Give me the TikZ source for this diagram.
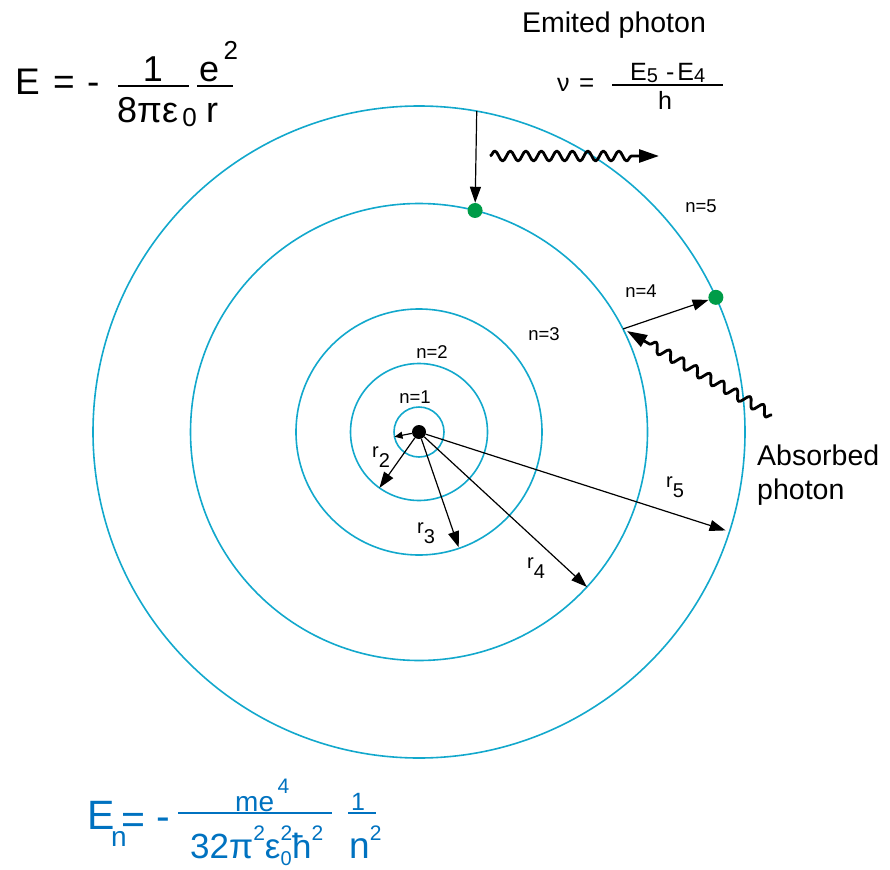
\documentclass[tikz,border=0pt]{standalone}
\usepackage{fontspec}
\setmainfont{Liberation Sans}
\usetikzlibrary{arrows.meta,decorations.pathmorphing}
\definecolor{orbitcyan}{RGB}{18,168,204}
\definecolor{eqblue}{RGB}{0,114,192}
\definecolor{dotgreen}{RGB}{0,156,72}
\newcommand{\fs}[1]{\fontsize{#1}{#1}\selectfont}
\newcommand{\rsub}[1]{r\raisebox{-10pt}{#1}}
\newcommand{\hisup}[1]{\raisebox{18pt}{\fs{21}#1}}
\newcommand{\losub}[1]{\raisebox{-7pt}{\fs{20}#1}}
\tikzset{
  orbit/.style={draw=orbitcyan,line width=1.6pt},
  arr/.style={-{Triangle[length=16pt,width=11pt]},line width=1.2pt},
  shortarr/.style={-{Triangle[length=8pt,width=7pt]},line width=1.2pt},
  photon/.style={-{Triangle[length=20pt,width=13pt]},line width=2.8pt,line join=round,
    decorate,decoration={snake,amplitude=5pt,segment length=15.5pt,post length=20pt}},
  elec/.style={circle,fill=dotgreen,inner sep=0pt,minimum size=15pt},
  nucleus/.style={circle,fill=black,inner sep=0pt,minimum size=14pt},
  nlab/.style={anchor=base,font=\fs{18.5}},
  rlab/.style={anchor=base west,inner sep=0pt,font=\fs{20}},
  caption/.style={font=\fontsize{28.5}{34}\selectfont},
  eqtxt/.style={anchor=base west,inner sep=0pt},
  fracbar/.style={line width=1.5pt}
}
\begin{document}
\begin{tikzpicture}[x=1pt,y=-1pt]
\useasboundingbox (0,0) rectangle (890,869);
\coordinate (c) at (419,432);
% orbits
\foreach \rad in {25,68.5,123,228.5,326}
  \draw[orbit] (c) circle[radius=\rad];
\node[nucleus] (nuc) at (c) {};
% radii
\foreach \ang/\rad/\nm in {169/25/r1,125.3/68.5/r2,71/122/r3,42.7/228.5/r4,17.8/322/r5}
  \path (c) ++(\ang:\rad) coordinate (\nm);
\draw[shortarr] (nuc) -- (r1);
\foreach \nm in {r2,r3,r4,r5}
  \draw[arr] (nuc) -- (\nm);
\node[rlab] (lr2) at (372,457) {\rsub{2}};
\node[rlab] (lr3) at (417,533) {\rsub{3}};
\node[rlab] (lr4) at (527,568) {\rsub{4}};
\node[rlab] (lr5) at (666,487) {\rsub{5}};
% orbit labels
\node[nlab] (n1) at (415,403) {n=1};
\node[nlab] (n2) at (432,358) {n=2};
\node[nlab] (n3) at (544,340) {n=3};
\node[nlab] (n4) at (641,297) {n=4};
\node[nlab] (n5) at (701,212) {n=5};
% electrons and jumps
\path (c) ++(284.2:228.5) node[elec] (el4) {};
\path (c) ++(335.6:326) node[elec] (el5) {};
\path (c) ++(280.2:326) coordinate (jump5);
\path (c) ++(333.2:228.5) coordinate (jump4);
\draw[arr] (jump5) -- (el4);
\draw[arr] (jump4) -- (el5);
% photons
\coordinate (emit0) at (490,156);
\coordinate (emit1) at (659,156);
\draw[photon] (emit0) -- (emit1);
\coordinate (abs0) at (772,415);
\coordinate (abs1) at (627,331);
\draw[photon] (abs0) -- (abs1);
\node[caption,anchor=base] (emit) at (614,33) {Emited photon};
\node[caption,anchor=base west,align=left,inner sep=0pt] (absorb) at (757,499) {Absorbed\\photon};
% frequency of the emitted photon
\node[eqtxt,font=\fs{25}] (nu) at (557,92) {ν};
\node[eqtxt,font=\fs{26}] (nueq) at (579,92) {=};
\coordinate (nubarl) at (612,85);
\coordinate (nubarr) at (723,85);
\draw[fracbar] (nubarl) -- (nubarr);
\node[eqtxt,font=\fs{25}] (nunum) at (630,81) {E\raisebox{-2pt}{\fs{20}5}\hspace{8pt}-\hspace{3pt}E\raisebox{-2pt}{\fs{20}4}};
\node[eqtxt,font=\fs{25},anchor=base] (nuden) at (665,110) {h};
% energy of the electron
\node[eqtxt,font=\fs{37}] (topE) at (15,95) {E};
\node[eqtxt,font=\fs{37}] (topeq) at (53,95) {=};
\node[eqtxt,font=\fs{37}] (topminus) at (87,95) {-};
\coordinate (bar1l) at (118,86);
\coordinate (bar1r) at (189,86);
\draw[fracbar] (bar1l) -- (bar1r);
\node[eqtxt,font=\fs{36},anchor=base] (topnum1) at (153,82) {1};
\node[eqtxt,font=\fs{36}] (topden1) at (117,123) {8πε\raisebox{-4pt}{\fs{26}\,0}};
\coordinate (bar2l) at (197,86);
\coordinate (bar2r) at (233,86);
\draw[fracbar] (bar2l) -- (bar2r);
\node[eqtxt,font=\fs{36}] (topnum2) at (199,82) {e\raisebox{22pt}{\fs{26}\,2}};
\node[eqtxt,font=\fs{36}] (topden2) at (206,123) {r};
% energy levels
\begin{scope}[text=eqblue,draw=eqblue]
\node[eqtxt,font=\fs{41}] (lvE) at (87,829) {E};
\node[eqtxt,font=\fs{28}] (lvn) at (111,846) {n};
\node[eqtxt,font=\fs{41}] (lveq) at (121,833) {=};
\node[eqtxt,font=\fs{41}] (lvminus) at (156,830) {-};
\coordinate (bar3l) at (178,813);
\coordinate (bar3r) at (332,813);
\draw[fracbar] (bar3l) -- (bar3r);
\node[eqtxt,font=\fs{28}] (lvnum) at (235,811) {me\hisup{\,4}};
\node[eqtxt,font=\fs{35}] (lvden) at (190,858) {32π\hisup{2}ε\rlap{\losub{0}}\hisup{2}ħ\hisup{2}};
\coordinate (bar4l) at (348,813);
\coordinate (bar4r) at (376,813);
\draw[fracbar] (bar4l) -- (bar4r);
\node[eqtxt,font=\fs{25},anchor=base] (lvone) at (358,810) {1};
\node[eqtxt,font=\fs{37}] (lvnsq) at (349,858) {n\hisup{2}};
\end{scope}
\end{tikzpicture}
\end{document}
